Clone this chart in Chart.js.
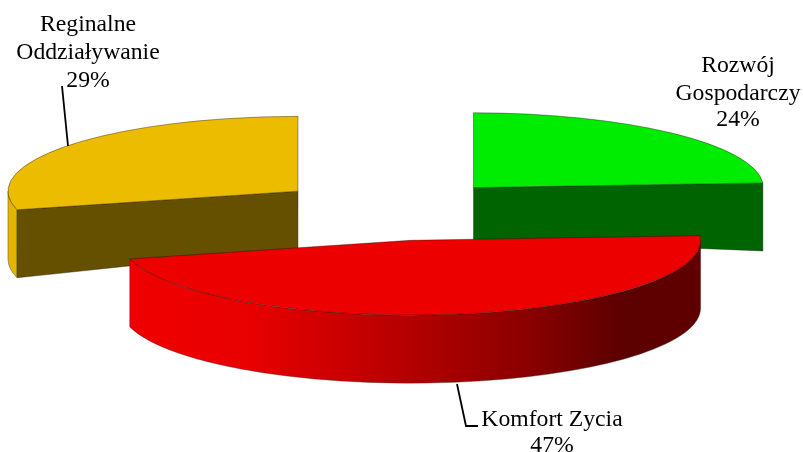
<!DOCTYPE html>
<html><head><meta charset="utf-8">
<style>html,body{margin:0;padding:0;background:#fff}canvas{display:block}</style>
<script src="https://cdn.jsdelivr.net/npm/chart.js@4"></script>
</head><body><canvas id="c" width="803" height="452"></canvas>
<script>
const categories = ["Rozwój Gospodarczy", "Komfort Zycia", "Reginalne Oddziaływanie"];
const shares = [24, 47, 29];
const labelLines = [["Rozwój", "Gospodarczy", "24%"], ["Komfort Zycia", "47%"], ["Reginalne", "Oddziaływanie", "29%"]];

// Styling and 3D projection
const topColors = ["#00EC00", "#EC0000", "#EBBC00"];
const cutColors = ["#006400", "#600000", "#655000"];
const wallColors = ["#00A000", null, "#E3B400"];
const drawOrder = [2, 0, 1];
const SQUASH = 0.258, EXPLODE = 119, RIM_DEPTH = 68;
const cornerDepth = [52, 52, 57];
const labelPos = [{x:738, y:[72,100,126]}, {x:552, y:[426,452]}, {x:88, y:[31,59,87]}];
const leaders = [null, [[457,384],[466,426],[478,426]], [[62,86],[68,146]]];

const pie3d = {
  id: "pie3d",
  beforeDatasetDraw(chart, args) {
    const ctx = chart.ctx, arcs = args.meta.data;
    drawOrder.forEach(i => {
      const arc = arcs[i];
      const mid = (arc.startAngle + arc.endAngle) / 2;
      const cx = arc.x + Math.cos(mid) * EXPLODE;
      const cy = arc.y + Math.sin(mid) * EXPLODE * SQUASH;
      const R = arc.outerRadius, a0 = arc.startAngle, a1 = arc.endAngle;
      const pt = a => [cx + R * Math.cos(a), cy + R * SQUASH * Math.sin(a)];
      const p0 = pt(a0), p1 = pt(a1);

      // outer wall: visible lower half of the rim
      const from = Math.max(a0, 0), to = Math.min(a1, Math.PI);
      if (to > from) {
        ctx.beginPath();
        ctx.ellipse(cx, cy, R, R * SQUASH, 0, from, to);
        ctx.ellipse(cx, cy + RIM_DEPTH, R, R * SQUASH, 0, to, from, true);
        ctx.closePath();
        if (wallColors[i]) ctx.fillStyle = wallColors[i];
        else {
          const g = ctx.createLinearGradient(130, 0, 700, 0);
          g.addColorStop(0, "#F00000"); g.addColorStop(0.21, "#E80000");
          g.addColorStop(0.51, "#B00000"); g.addColorStop(0.7, "#8A0000");
          g.addColorStop(0.86, "#5C0000"); g.addColorStop(1, "#600000");
          ctx.fillStyle = g;
        }
        ctx.fill();
        ctx.lineWidth = 0.4; ctx.strokeStyle = "#333"; ctx.stroke();
      }

      // cut faces seen from the front (not for the big front slice)
      if (i !== 1) {
        const rim = i === 0 ? p1 : p0;
        ctx.beginPath();
        ctx.moveTo(cx, cy);
        ctx.lineTo(rim[0], rim[1]);
        ctx.lineTo(rim[0], rim[1] + RIM_DEPTH);
        ctx.lineTo(cx, cy + cornerDepth[i]);
        ctx.closePath();
        ctx.fillStyle = cutColors[i];
        ctx.fill();
        ctx.lineWidth = 0.4; ctx.strokeStyle = "#222"; ctx.stroke();
      }

      // top face: the library's own arc element, projected
      ctx.save();
      ctx.translate(cx, cy);
      ctx.scale(1, SQUASH);
      ctx.translate(-arc.x, -arc.y);
      arc.draw(ctx);
      ctx.restore();

      // outline of the top face
      ctx.beginPath();
      ctx.moveTo(cx, cy);
      ctx.ellipse(cx, cy, R, R * SQUASH, 0, a0, a1);
      ctx.closePath();
      ctx.lineWidth = 0.5; ctx.strokeStyle = "rgba(20,10,0,0.75)"; ctx.stroke();
    });

    // leader lines
    ctx.strokeStyle = "#000"; ctx.lineWidth = 1.8;
    leaders.forEach(l => {
      if (!l) return;
      ctx.beginPath();
      l.forEach((p, k) => k ? ctx.lineTo(p[0], p[1]) : ctx.moveTo(p[0], p[1]));
      ctx.stroke();
    });

    // labels
    ctx.fillStyle = "#000";
    ctx.font = '23.7px "Liberation Serif"';
    ctx.textAlign = "center";
    ctx.textBaseline = "alphabetic";
    labelLines.forEach((lines, i) => lines.forEach((t, k) => ctx.fillText(t, labelPos[i].x, labelPos[i].y[k])));
    return false;
  }
};

new Chart(document.getElementById("c"), {
  type: "pie",
  data: { labels: categories, datasets: [{ data: shares, backgroundColor: topColors, borderWidth: 0 }] },
  options: {
    responsive: false, animation: false, radius: 290,
    layout: { padding: { left: 0, right: 19, top: 0, bottom: 32 } },
    plugins: { legend: { display: false }, tooltip: { enabled: false } }
  },
  plugins: [pie3d]
});
</script></body></html>
